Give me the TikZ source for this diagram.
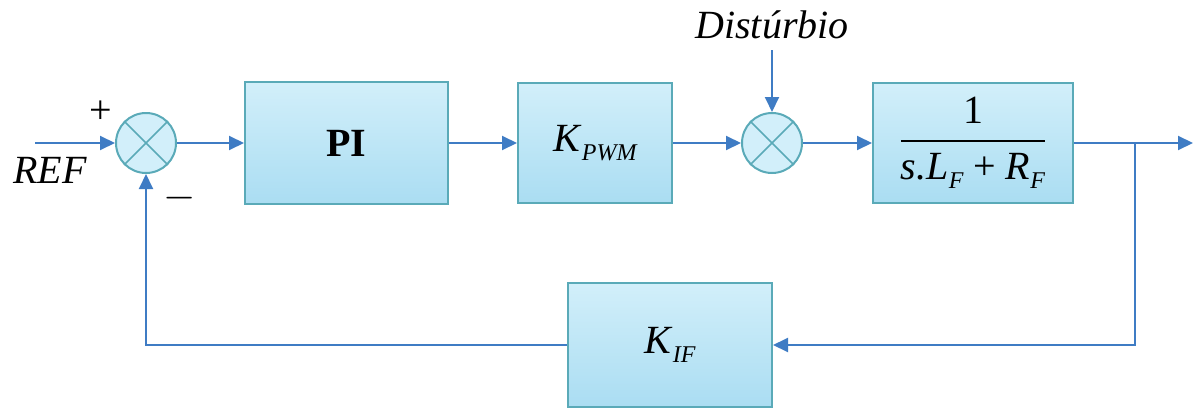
\documentclass[tikz,border=0pt]{standalone}
\usepackage{amsmath}
\usepackage{fontspec}
\setmainfont{Liberation Serif}
\usetikzlibrary{arrows.meta}
\definecolor{linkblue}{HTML}{3F7CC4}
\definecolor{boxedge}{HTML}{5AAAB8}
\definecolor{boxtop}{HTML}{D2EFFA}
\definecolor{boxbot}{HTML}{AADDF2}
\newcommand{\lowsub}[1]{\raisebox{-4.5pt}{\fontsize{12}{14}\selectfont\itshape #1}}
\begin{document}
\begin{tikzpicture}[x=0.5pt, y=-0.5pt,
  font=\fontsize{20}{24}\selectfont,
  block/.style={draw=boxedge, line width=1pt, top color=boxtop, bottom color=boxbot, inner sep=0pt, align=center},
  summer/.style={circle, draw=boxedge, line width=1pt, fill=boxtop, minimum size=30pt, inner sep=0pt},
  cross/.style={draw=boxedge, line width=0.8pt},
  link/.style={draw=linkblue, line width=1pt, -{Triangle[length=7.5pt,width=7pt]}}]
\useasboundingbox (0,0) rectangle (1194,412);
% forward path
\coordinate (ref) at (35,143);
\node[summer] (sum1) at (146,143) {};
\node[block, minimum width=101.5pt, minimum height=61pt] (pi) at (346.5,143) {\bfseries PI};
\node[block, minimum width=77pt, minimum height=60pt] (kpwm) at (595,143) {\textit{K}\lowsub{PWM}};
\node[summer] (sum2) at (772,143) {};
\node[block, minimum width=100pt, minimum height=60pt] (plant) at (973,143)
  {$\genfrac{}{}{0.9pt}{0}{\mbox{1}}{\mbox{\itshape s.L\lowsub{F} \upshape+ \itshape R\lowsub{F}}}$};
\node[block, minimum width=102pt, minimum height=62pt] (kif) at (670,345) {\textit{K}\lowsub{IF}};
\node (dist) at (772,25) {\textit{Distúrbio}};
\coordinate (branch) at (1135,143);
\coordinate (out) at (1193,143);
% labels
\node (plus) at (101,112) {+};
\node (minus) at (180,198) {$-$};
\node (reflabel) at (50,170) {\textit{REF}};
% crosses
\foreach \s in {sum1,sum2} {
  \draw[cross] (\s.45) -- (\s.225) (\s.135) -- (\s.315);
}
% connectors
\draw[link] (ref) -- (sum1);
\draw[link] (sum1) -- (pi);
\draw[link] (pi) -- (kpwm);
\draw[link] (kpwm) -- (sum2);
\draw[link] (dist.south |- 0,50) -- (sum2);
\draw[link] (sum2) -- (plant);
\draw[link] (plant) -- (out);
\draw[link] (branch) |- (kif.east);
\draw[link] (kif.west) -| (sum1.south);
\end{tikzpicture}
\end{document}
